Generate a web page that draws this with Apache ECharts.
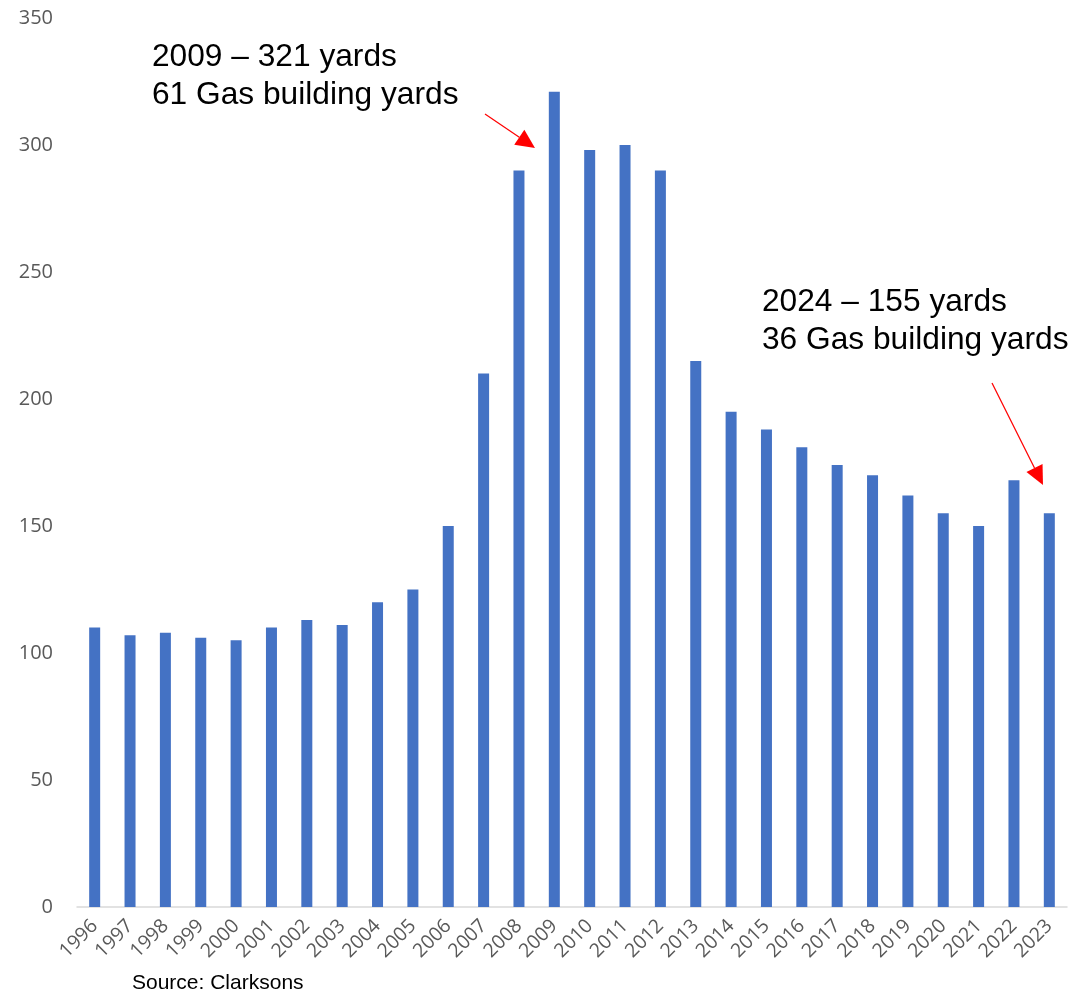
<!DOCTYPE html>
<html>
<head>
<meta charset="utf-8">
<script src="https://cdn.jsdelivr.net/npm/echarts@6/dist/echarts.min.js"></script>
<style>
  html, body { margin: 0; padding: 0; background: #fff; }
  #main { width: 1073px; height: 993px; }
</style>
</head>
<body>
<div id="main"></div>
<script>
var years = ['1996', '1997', '1998', '1999', '2000', '2001', '2002', '2003', '2004', '2005',
  '2006', '2007', '2008', '2009', '2010', '2011', '2012', '2013', '2014', '2015',
  '2016', '2017', '2018', '2019', '2020', '2021', '2022', '2023'];
var yards = [110, 107, 108, 106, 105, 110, 113, 111, 120, 125,
  150, 210, 290, 321, 298, 300, 290, 215, 195, 188,
  181, 174, 170, 162, 155, 150, 168, 155];

var chart = echarts.init(document.getElementById('main'));

// arrow from (x1,y1) to tip (x2,y2), in pixels
function arrow(x1, y1, x2, y2) {
  var a = Math.atan2(y2 - y1, x2 - x1);
  var len = 19, half = 9;
  var bx = x2 - len * Math.cos(a), by = y2 - len * Math.sin(a);
  var px = -Math.sin(a) * half, py = Math.cos(a) * half;
  return [{
    type: 'line',
    shape: { x1: x1, y1: y1, x2: bx, y2: by },
    style: { stroke: '#ff0000', lineWidth: 1.2 }
  }, {
    type: 'polygon',
    shape: { points: [[x2, y2], [bx + px, by + py], [bx - px, by - py]] },
    style: { fill: '#ff0000' }
  }];
}

var txtStyle = { fontFamily: 'Liberation Sans, Arial', fontSize: 31.7, fill: '#000', lineHeight: 38.5 };

chart.setOption({
  backgroundColor: '#fff',
  animation: false,
  grid: {
    left: 77,
    right: 6,
    top: 18,
    bottom: 86,
    containLabel: false
  },
  xAxis: {
    type: 'category',
    data: years,
    axisLine: { lineStyle: { color: '#d9d9d9', width: 1.5 } },
    axisTick: { show: false },
    axisLabel: {
      rotate: 45,
      interval: 0,
      margin: 16,
      color: '#595959',
      fontSize: 19.5,
      fontFamily: 'Open Sans'
    }
  },
  yAxis: {
    type: 'value',
    min: 0,
    max: 350,
    interval: 50,
    axisLine: { show: false },
    axisTick: { show: false },
    splitLine: { show: false },
    axisLabel: {
      margin: 24,
      color: '#595959',
      fontSize: 20,
      fontFamily: 'Open Sans'
    }
  },
  series: [{
    type: 'bar',
    data: yards,
    barWidth: 11,
    itemStyle: { color: '#4472c4' }
  }],
  graphic: [].concat(
    [{
      type: 'text', left: 152, top: 38,
      style: Object.assign({ text: '2009 – 321 yards\n61 Gas building yards' }, txtStyle)
    }, {
      type: 'text', left: 762, top: 283,
      style: Object.assign({ text: '2024 – 155 yards\n36 Gas building yards' }, txtStyle)
    }, {
      type: 'text', left: 132, top: 973,
      style: { text: 'Source: Clarksons', fontFamily: 'Liberation Sans, Arial', fontSize: 21, fill: '#000' }
    }],
    arrow(485, 114, 535, 148),
    arrow(992, 383, 1043, 485)
  )
});
</script>
</body>
</html>
